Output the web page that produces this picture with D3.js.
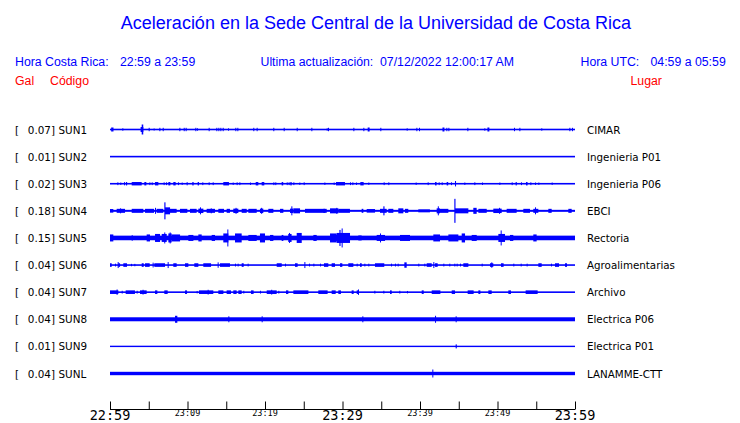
<!DOCTYPE html>
<html>
<head>
<meta charset="utf-8">
<script src="https://cdn.jsdelivr.net/npm/d3@7"></script>
<style>
  html, body { margin: 0; padding: 0; background: #ffffff; }
  svg { display: block; }
</style>
</head>
<body>
<svg id="chart" width="740" height="423"></svg>
<script>
// ---------------- DATA ----------------
const codes  = ["SUN1","SUN2","SUN3","SUN4","SUN5","SUN6","SUN7","SUN8","SUN9","SUNL"];
const places = ["CIMAR","Ingenieria P01","Ingenieria P06","EBCI","Rectoria","Agroalimentarias","Archivo","Electrica P06","Electrica P01","LANAMME-CTT"];
const peakGal = [0.07, 0.01, 0.02, 0.18, 0.15, 0.04, 0.04, 0.04, 0.01, 0.04];
// baseline half-amplitude (relative units) of each trace
const baseAmp = [0.08, 0.08, 0.08, 0.1, 0.23, 0.08, 0.08, 0.2, 0.07, 0.17];
// minutes from 22:59 for the tick marks and their labels
const tickMinutes = [0,5,10,15,20,25,30,35,40,45,50,55,60];
const tickLabels  = {0:"22:59",10:"23:09",20:"23:19",30:"23:29",40:"23:39",50:"23:49",60:"23:59"};
const bigLabels   = [0,30,60];

// bursts per trace: [minute from 22:59, half-amplitude, duration in minutes]
const sun1 = [[0.15,0.2,0.3],[1.59,0.12],[4.09,0.5,0.2],[3.95,0.25,0.35],[4.99,0.17],[5.63,0.1],[6.37,0.17],[6.80,0.17],[8.95,0.17],[9.51,0.17],[9.76,0.17],
  [11.01,0.17],[11.23,0.12],[12.73,0.17],[13.72,0.17],[13.98,0.17],[14.24,0.17],[14.54,0.17],[15.23,0.12],[16.17,0.17],[16.43,0.17],
  [18.49,0.17],[18.92,0.17],[21.07,0.17],[22.41,0.17],[24.09,0.17],[25.98,0.17],[27.96,0.12],[28.13,0.17],[31.40,0.17],[32.69,0.17],
  [33.25,0.2,0.25],[34.88,0.17],[38.28,0.12],[39.53,0.17],[39.87,0.17],[42.9,0.2,0.25],[43.40,0.17],[43.66,0.17],[46.11,0.17],
  [48.30,0.12],[48.7,0.2,0.25],[52.13,0.17],[52.82,0.17],[55.65,0.12],[59.27,0.17],[59.61,0.17]];
const sun2 = [];
const sun3 = [[0.95,0.14],[1.33,0.12],[1.81,0.16],[2.06,0.17,0.15],[2.80,0.17,1.29],[4.43,0.17,0.26],[5.08,0.14],[5.38,0.14],[5.81,0.17,0.43],
  [6.92,0.14],[7.23,0.14],[7.53,0.17,0.26],[8.17,0.17,0.3],[8.77,0.14],[9.25,0.12],[9.89,0.16],[10.62,0.17,0.17],[11.31,0.17,0.17],
  [11.91,0.14],[12.73,0.14],[13.25,0.14],[14.62,0.17,0.73],[15.83,0.12],[16.34,0.14],[16.69,0.14],[18.06,0.12],[18.80,0.17,0.34],
  [19.57,0.17,0.34],[21.08,0.14],[21.33,0.14],[22.15,0.17,0.2],[22.80,0.14],[23.05,0.14],[23.27,0.17,0.17],[23.66,0.14],[24.43,0.12],
  [24.99,0.14],[27.66,0.12],[28.86,0.12],[29.16,0.17,1.16],[30.97,0.14],[31.27,0.14],[31.74,0.12],[32.30,0.17,0.43],[33.33,0.12],
  [35.31,0.14],[35.91,0.14],[39.44,0.12],[40.99,0.14],[41.94,0.17,0.2],[42.41,0.14],[42.80,0.14],[43.44,0.17,0.2],[44.0,0.14],
  [44.52,0.27,0.12],[45.72,0.12],[47.01,0.14],[48.0,0.12],[50.24,0.12],[51.83,0.14],[52.34,0.17,0.15],[53.03,0.14],[53.68,0.17,0.2],
  [54.24,0.14],[54.84,0.12],[55.27,0.12],[56.99,0.12]];
const sun4 = [[0,0.18,0.43],[0.86,0.2,1.08],[1.3,0.25],[2.80,0.2,1.5],[4.52,0.2,1.16],[5.81,0.3],[6.02,0.2,0.86],[7.10,0.35,0.65],[7.01,0.85,0.15],
  [7.74,0.2,0.86],[9.03,0.2,0.95],[10.32,0.2,0.86],[11.40,0.22,0.65],[11.61,0.35],[12.47,0.2,1.08],[13.0,0.25],[13.98,0.2,0.73],
  [15.05,0.2,0.43],[15.91,0.22,0.65],[16.2,0.3],[16.99,0.2,0.65],[17.85,0.2,1.08],[19.35,0.22,0.43],[19.5,0.3],[20.43,0.2,0.65],
  [21.94,0.2,0.43],[23.23,0.22,0.43],[23.4,0.45],[23.66,0.25,0.86],[25.16,0.2,2.58],[27.53,0.2,0.43],[28.39,0.25,1.08],[29.2,0.3],
  [29.46,0.2,1.5],[32.47,0.2,0.22],[33.12,0.18,1.08],[34.84,0.2,0.86],[35.27,0.45,0.15],[35.91,0.2,0.65],[37.20,0.25,0.65],
  [38.06,0.2,0.43],[39.78,0.15,1.5],[42.15,0.25,0.43],[42.3,0.45,0.12],[42.58,0.2,1.08],[44.52,0.25,1.72],[44.43,1.2,0.15],
  [46.88,0.3,0.43],[47.53,0.2,1.08],[49.46,0.22,1.08],[50.2,0.3],[51.18,0.2,1.29],[53.33,0.2,0.86],[54.62,0.2,0.65],[54.84,0.35],
  [56.56,0.2,0.43],[59.14,0.2,0.43]];
const sun5 = [[0,0.35,0.43],[2.80,0.28],[4.73,0.35,0.43],[5.81,0.4,0.65],[6.67,0.4,0.65],[7.0,0.55],[7.53,0.45,0.43],[7.7,0.55],
  [7.96,0.35,1.08],[10.11,0.3,0.65],[11.40,0.35,0.43],[13.12,0.3,0.43],[14.62,0.45,0.65],[15.14,0.85,0.12],[16.13,0.45,0.86],
  [17.85,0.3,1.08],[19.35,0.45,0.65],[20.65,0.3,0.43],[22.15,0.3,0.22],[23.0,0.4,0.43],[23.1,0.5],[24.09,0.5,0.65],[26.24,0.3,0.43],
  [28.39,0.45,0.86],[29.03,0.3,0.65],[29.25,0.5,1.72],[29.6,0.8,0.15],[29.89,0.95,0.12],[32.04,0.25,0.43],[34.41,0.3,1.08],
  [34.84,0.45,0.12],[37.42,0.3,1.29],[41.72,0.35,0.86],[43.66,0.35,1.29],[45.38,0.45,0.43],[46.67,0.3,0.65],[50.11,0.4,0.86],
  [50.41,0.75,0.12],[51.61,0.3,0.43],[54.62,0.35,0.43]];
const sun6 = [[0,0.18,0.22],[0.65,0.14],[0.99,0.3],[1.08,0.18,0.22],[1.72,0.18,0.47],[2.71,0.12],[3.14,0.12],[4.09,0.18,0.26],
  [4.52,0.18,0.6],[5.5,0.24],[5.72,0.18,1.38],[7.44,0.3],[8.17,0.18,0.43],[9.68,0.18,0.43],[10.88,0.18,0.52],[12.04,0.18,1.0],
  [13.89,0.27],[14.19,0.18,1.29],[16.13,0.14],[16.47,0.14],[16.99,0.18,0.26],[17.76,0.14],[21.51,0.18,0.65],[22.58,0.14],
  [23.87,0.18,0.34],[25.08,0.3],[25.68,0.14],[26.24,0.14],[27.10,0.14],[27.61,0.18,0.56],[28.60,0.18,0.43],[29.68,0.18,0.3],
  [30.75,0.18,0.65],[31.83,0.14],[32.26,0.18,0.22],[32.82,0.14],[33.33,0.14],[34.19,0.18,1.2],[36.26,0.14],[36.77,0.14],[37.12,0.14],
  [37.98,0.27,0.3],[39.78,0.14],[40.56,0.14],[40.86,0.18,0.65],[41.72,0.3],[41.94,0.18,0.34],[43.01,0.14],[43.78,0.14],[44.43,0.14],
  [44.73,0.14],[45.16,0.14],[45.59,0.18,0.65],[47.96,0.14],[49.03,0.18,0.43],[49.2,0.27],[50.45,0.18,0.34],[52.04,0.14],[52.99,0.14],
  [53.76,0.14],[55.27,0.18,0.43],[56.90,0.14],[57.42,0.18,0.52],[58.71,0.18,0.26]];
const sun7 = [[0,0.18,1.08],[0.85,0.27],[1.51,0.14],[2.02,0.18,1.2],[3.44,0.14],[3.87,0.18,0.86],[4.2,0.24],[5.81,0.18,0.3],[7.01,0.18,0.43],
  [9.68,0.18,0.26],[11.18,0.12],[11.48,0.18,1.85],[12.6,0.24],[13.98,0.18,0.65],[15.05,0.18,0.56],[15.91,0.18,0.43],[16.56,0.18,0.43],
  [17.20,0.14],[18.19,0.18,0.34],[19.35,0.14],[20.22,0.18,1.29],[20.8,0.24],[21.72,0.14],[22.71,0.18,0.3],[23.66,0.18,1.94],
  [26.88,0.18,1.2],[28.60,0.18,0.52],[29.46,0.18,0.34],[31.18,0.18,0.26],[31.83,0.18,0.3],[32.0,0.27],[34.11,0.14],[35.27,0.14],
  [36.13,0.18,0.22],[37.33,0.14],[38.32,0.12],[40.22,0.18,0.26],[41.51,0.18,1.12],[44.09,0.18,0.43],[46.15,0.18,0.77],
  [47.53,0.18,0.26],[48.82,0.18,0.43],[51.40,0.18,0.34],[53.63,0.18,1.55]];
const sun8 = [[8.39,0.35,0.3],[15.27,0.3],[19.57,0.3],[32.56,0.3],[41.94,0.35],[44.60,0.3]];
const sun9 = [[44.60,0.2,0.15]];
const sunl = [[41.59,0.4,0.12]];
const bursts = [sun1, sun2, sun3, sun4, sun5, sun6, sun7, sun8, sun9, sunl];

// ---------------- DRAW ----------------
const svg = d3.select("#chart");
const blue = "#0000ff";
const red = "#ff0000";

const x = d3.scaleLinear().domain([0, 60]).range([110, 575]);
const y = d3.scalePoint().domain(codes).range([129.5, 373.5]);
const amp = d3.scaleLinear().domain([0, 1]).range([0, 10]);

// Title and header
svg.append("text").attr("x", 376).attr("y", 29).attr("text-anchor", "middle")
  .style("font-family", "'Liberation Sans', Arial, sans-serif").style("font-size", "18px")
  .attr("fill", blue).text("Aceleración en la Sede Central de la Universidad de Costa Rica");

const header = [
  {t: "Hora Costa Rica:", x: 15, y: 66, c: blue},
  {t: "22:59 a 23:59", x: 120, y: 66, c: blue},
  {t: "Ultima actualización:", x: 260.5, y: 66, c: blue},
  {t: "07/12/2022 12:00:17 AM", x: 380, y: 66, c: blue},
  {t: "Hora UTC:", x: 580.5, y: 66, c: blue},
  {t: "04:59 a 05:59", x: 650.5, y: 66, c: blue},
  {t: "Gal", x: 15, y: 85, c: red},
  {t: "Código", x: 50, y: 85, c: red},
  {t: "Lugar", x: 630.5, y: 85, c: red}
];
svg.append("g").selectAll("text").data(header).join("text")
  .attr("x", d => d.x).attr("y", d => d.y).attr("fill", d => d.c)
  .style("font-family", "'Liberation Sans', Arial, sans-serif").style("font-size", "12.3px")
  .text(d => d.t);

// Traces
const traces = svg.append("g");
codes.forEach((code, i) => {
  const cy = y(code);
  const g = traces.append("g");
  const bh = Math.max(1, 2 * amp(baseAmp[i]));
  g.append("rect").attr("x", x(0)).attr("width", x(60) - x(0))
    .attr("y", cy - bh / 2).attr("height", bh).attr("fill", blue);
  g.selectAll("rect.b").data(bursts[i]).join("rect").attr("class", "b")
    .attr("x", d => x(d[0]))
    .attr("width", d => Math.max(1, x(Math.min(60, d[0] + (d[2] || 0.1))) - x(d[0])))
    .attr("y", d => cy - amp(d[1]))
    .attr("height", d => 2 * amp(d[1]))
    .attr("fill", blue);
});

// Left labels
const left = svg.append("g").style("font-family", "'DejaVu Sans', sans-serif").style("font-size", "10.4px").attr("fill", "#000");
codes.forEach((code, i) => {
  const by = y(code) + 4;
  left.append("text").attr("x", 15).attr("y", by).text("[");
  left.append("text").attr("x", 55).attr("y", by).attr("text-anchor", "end").text(peakGal[i].toFixed(2) + "]");
  left.append("text").attr("x", 58.5).attr("y", by).text(code);
});
// Right labels
svg.append("g").selectAll("text").data(places).join("text")
  .attr("x", 587).attr("y", (d, i) => y(codes[i]) + 4)
  .style("font-family", "'DejaVu Sans', sans-serif").style("font-size", "10.3px").attr("fill", "#000")
  .text(d => d);

// Time axis
const axis = d3.axisTop(x).tickValues(tickMinutes).tickSize(8).tickFormat("");
const ag = svg.append("g").attr("transform", "translate(0,409.5)").call(axis);
ag.select(".domain").remove();
ag.selectAll(".tick line").attr("stroke", "#000");
ag.append("line").attr("x1", x(0)).attr("x2", x(60)).attr("stroke", "#000");
ag.selectAll(".tick text").remove();
svg.append("g").selectAll("text").data(Object.keys(tickLabels).map(Number)).join("text")
  .attr("x", d => x(d)).attr("y", d => bigLabels.includes(d) ? 420 : 416)
  .attr("text-anchor", "middle")
  .style("font-family", "'DejaVu Sans Mono', monospace")
  .style("font-size", d => bigLabels.includes(d) ? "13.5px" : "8.5px")
  .attr("fill", "#000")
  .text(d => tickLabels[d]);
</script>
</body>
</html>
